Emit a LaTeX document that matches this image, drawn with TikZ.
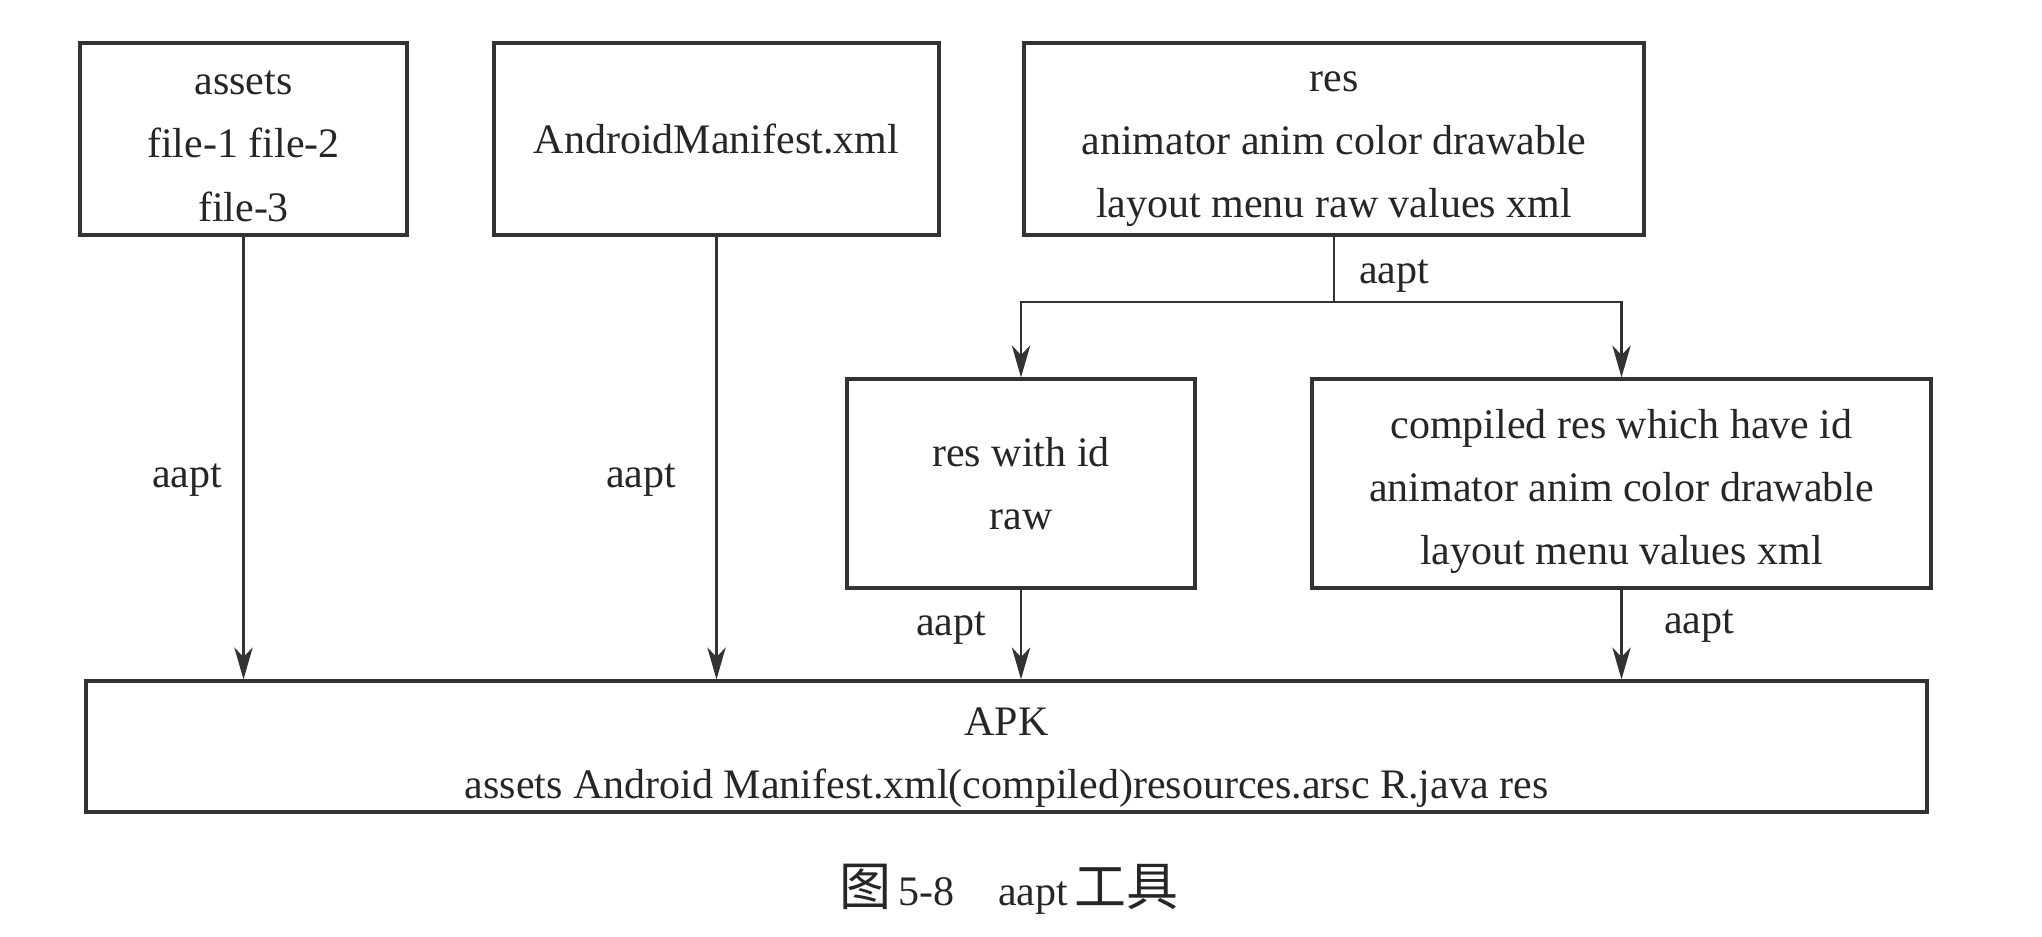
\documentclass[tikz,border=0pt]{standalone}
\usepackage{fontspec}
\setmainfont{Liberation Serif}
\newfontfamily\cjk{Noto Sans CJK SC}
\usetikzlibrary{arrows.meta}
\newcommand{\toprule}[1]{\rule{0pt}{#1}}
\begin{document}
\begin{tikzpicture}[x=0.25pt,y=-0.25pt,
  box/.style={draw=black!80, line width=0.8pt, inner sep=0pt, align=center,
    text=black!85, font=\fontsize{10.5}{15.8}\selectfont},
  conn/.style={draw=black!80, line width=0.55pt},
  arr/.style={conn, -{Stealth[length=8pt,width=4.6pt,inset=2.4pt]}},
  lab/.style={inner sep=0pt, text=black!85, font=\fontsize{10.5}{12}\selectfont}]
\useasboundingbox (0,0) rectangle (2042,936);
% boxes
\node[box, minimum width=81.75pt, minimum height=48pt] (assets) at (243.5,139)
  {\toprule{9.5pt}assets\\file-1 file-2\\file-3};
\node[box, minimum width=111.25pt, minimum height=48pt] (manifest) at (716.5,139)
  {AndroidManifest.xml};
\node[box, minimum width=155pt, minimum height=48pt] (res) at (1334,139)
  {\toprule{10pt}res\\animator anim color drawable\\layout menu raw values xml};
\node[box, minimum width=87pt, minimum height=52.25pt] (reswid) at (1021,483.5)
  {res with id\\raw};
\node[box, minimum width=154.75pt, minimum height=52.25pt] (compiled) at (1621.5,483.5)
  {\toprule{11.3pt}compiled res which have id\\animator anim color drawable\\layout menu values xml};
\node[box, minimum width=460.25pt, minimum height=32.75pt] (apk) at (1006.5,746.5)
  {\toprule{12.5pt}APK\\assets Android Manifest.xml(compiled)resources.arsc R.java res};
% connectors
\coordinate (br) at (1334,302);
\draw[conn] (res.south) -- (br);
\draw[arr] (br) -| (reswid.north);
\draw[arr] (br) -| (compiled.north);
\draw[arr] (assets.south) -- (assets.south |- apk.north);
\draw[arr] (manifest.south) -- (manifest.south |- apk.north);
\draw[arr] (reswid.south) -- (reswid.south |- apk.north);
\draw[arr] (compiled.south) -- (compiled.south |- apk.north);
% labels
\node[lab] (l0) at (1394,276) {aapt};
\node[lab] (l1) at (187,480) {aapt};
\node[lab] (l2) at (641,480) {aapt};
\node[lab] (l3) at (951,628) {aapt};
\node[lab] (l4) at (1699,626) {aapt};
% caption
\node[lab] (cap) at (1009,889)
  {{\cjk\fontsize{13}{14}\selectfont 图}\,5-8\hspace{11pt}aapt\,{\cjk\fontsize{13}{14}\selectfont 工具}};
\end{tikzpicture}
\end{document}
